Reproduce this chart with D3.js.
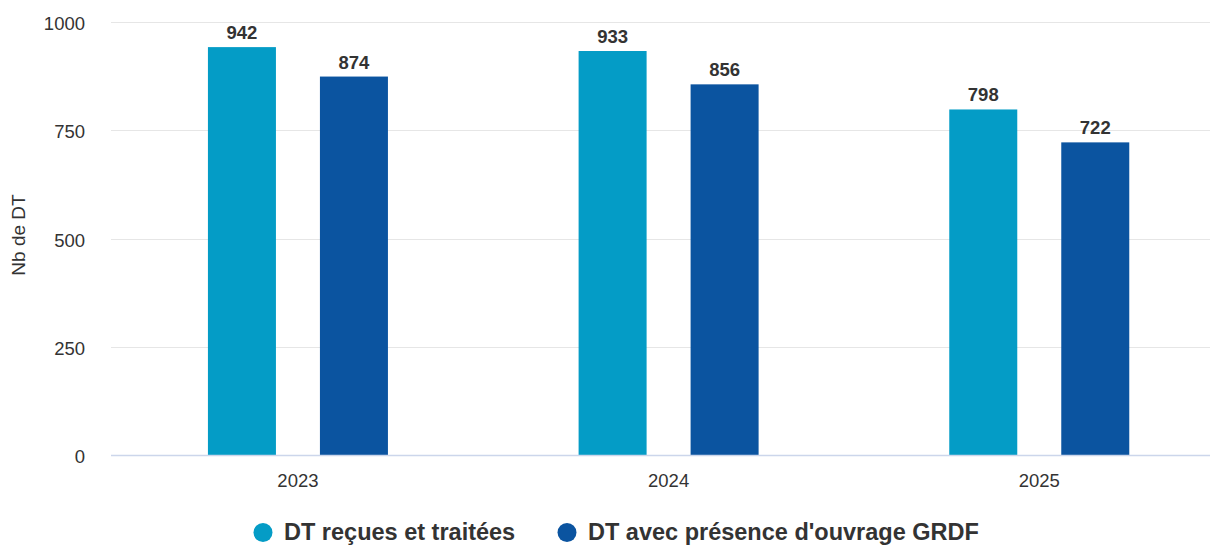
<!DOCTYPE html>
<html><head><meta charset="utf-8">
<script src="https://cdn.jsdelivr.net/npm/d3@7"></script>
<style>body{margin:0;background:#fff;}svg{display:block;font-family:"Liberation Sans",Arial,sans-serif;}</style>
</head><body><svg id="c" width="1211" height="545"></svg>
<script>
const categories = ["2023","2024","2025"];
const seriesNames = ["DT reçues et traitées","DT avec présence d'ouvrage GRDF"];
const recues = [942,933,798];
const presence = [874,856,722];
const yTicks = [0,250,500,750,1000];
const colors = ["#049cc6","#0b54a0"];

const svg = d3.select("#c");
const plotLeft = 111, plotRight = 1210;
const y = d3.scaleLinear().domain([0,1000]).range([455,22]);
const x = d3.scaleBand().domain(categories).range([112.6, 1224.6]).padding(0);
const sub = d3.scaleBand().domain([0,1]).range([-90,90]).paddingInner(44/112).paddingOuter(0);

// grid
svg.append("g").selectAll("line").data(yTicks.filter(d=>d>0)).join("line")
  .attr("x1",plotLeft).attr("x2",plotRight)
  .attr("y1",d=>Math.round(y(d))+0.5).attr("y2",d=>Math.round(y(d))+0.5)
  .attr("stroke","#e6e6e6").attr("stroke-width",1);

// y labels
svg.append("g").selectAll("text").data(yTicks).join("text")
  .attr("x",85).attr("y",d=>y(d)+8).attr("text-anchor","end")
  .attr("font-size",18.5).attr("fill","#333").text(d=>d);

// y title
svg.append("text").attr("transform","translate(25,235) rotate(-90)")
  .attr("text-anchor","middle").attr("font-size",19).attr("fill","#333").text("Nb de DT");

// bars
const series = [recues, presence];
series.forEach((vals,si)=>{
  const g = svg.append("g");
  g.selectAll("rect").data(vals).join("rect")
    .attr("x",(d,i)=>x(categories[i]) + x.bandwidth()/2 + sub(si))
    .attr("width",sub.bandwidth())
    .attr("y",d=>y(d)).attr("height",d=>y(0)-y(d))
    .attr("fill",colors[si]);
  g.selectAll("text").data(vals).join("text")
    .attr("x",(d,i)=>x(categories[i]) + x.bandwidth()/2 + sub(si) + sub.bandwidth()/2)
    .attr("y",d=>y(d)-8).attr("text-anchor","middle")
    .attr("font-size",18.5).attr("font-weight","bold").attr("fill","#333").text(d=>d);
});

// baseline
svg.append("line").attr("x1",plotLeft).attr("x2",plotRight)
  .attr("y1",455.5).attr("y2",455.5).attr("stroke","#ccd6eb").attr("stroke-width",1.5);

// x labels
svg.append("g").selectAll("text").data(categories).join("text")
  .attr("x",d=>x(d)+x.bandwidth()/2).attr("y",487).attr("text-anchor","middle")
  .attr("font-size",18.5).attr("fill","#333").text(d=>d);

// legend
const legX = [263, 567];
const lg = svg.append("g");
seriesNames.forEach((n,i)=>{
  lg.append("circle").attr("cx",legX[i]).attr("cy",532.5).attr("r",9.5).attr("fill",colors[i]);
  lg.append("text").attr("x",legX[i]+21).attr("y",539.5).attr("font-size",23.5)
    .attr("font-weight","bold").attr("fill","#333").text(n);
});
</script></body></html>
